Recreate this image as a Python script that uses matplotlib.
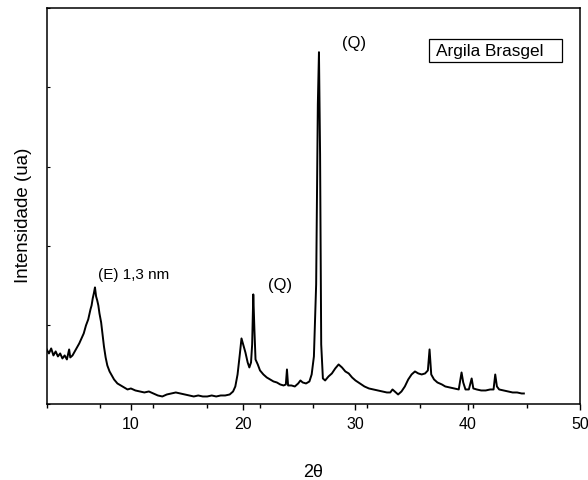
import numpy as np
import matplotlib
matplotlib.use("Agg")
import matplotlib.pyplot as plt
from matplotlib.patches import Rectangle

plt.rcParams["font.family"] = ["Liberation Sans", "DejaVu Sans"]

# XRD pattern (2theta in degrees, intensity in arbitrary units)
two_theta = [
    2.5, 2.7, 2.9, 3.1, 3.3, 3.5, 3.7, 3.9, 4.1, 4.3, 4.5, 4.6, 4.8,
    5.0, 5.2, 5.4, 5.6, 5.8, 6.0, 6.2, 6.4, 6.5, 6.6, 6.7, 6.8, 6.9,
    7.0, 7.1, 7.2, 7.35, 7.5, 7.6, 7.75, 7.9, 8.1, 8.3, 8.5, 8.8, 9.1,
    9.4, 9.7, 10.0, 10.4, 10.8, 11.2, 11.6, 12.0, 12.4, 12.8, 13.2, 13.6,
    14.0, 14.4, 14.8, 15.2, 15.6, 16.0, 16.4, 16.8, 17.2, 17.6, 18.0,
    18.4, 18.8, 19.1, 19.3, 19.5, 19.7, 19.85, 20.0, 20.2, 20.4, 20.55,
    20.7, 20.8, 20.9, 21.0, 21.1, 21.3, 21.5, 21.8, 22.1, 22.4, 22.7,
    23.0, 23.3, 23.6, 23.8, 23.9, 24.0, 24.3, 24.6, 24.9, 25.1, 25.3,
    25.6, 25.9, 26.1, 26.3, 26.5, 26.65, 26.75, 26.85, 26.95, 27.1, 27.3,
    27.6, 27.9, 28.2, 28.5, 28.8, 29.1, 29.4, 29.7, 30.0, 30.4, 30.8,
    31.2, 31.6, 32.0, 32.4, 32.8, 33.1, 33.3, 33.5, 33.8, 34.1, 34.4,
    34.7, 35.0, 35.3, 35.6, 35.9, 36.2, 36.45, 36.6, 36.75, 37.0, 37.3,
    37.7, 38.0, 38.4, 38.8, 39.2, 39.45, 39.6, 39.8, 40.1, 40.35, 40.5,
    40.8, 41.2, 41.6, 42.0, 42.3, 42.45, 42.6, 42.8, 43.2, 43.6, 44.0,
    44.4, 44.8, 45.0,
]
intensity = [
    55, 51, 56, 49, 53, 48, 51, 46, 49, 45, 55, 47, 49,
    53, 57, 61, 66, 71, 79, 85, 95, 99, 106, 111, 117, 108,
    104, 99, 91, 82, 68, 58, 47, 39, 33, 29, 25, 21, 19,
    17, 15, 16, 14, 13, 12, 13, 11, 9, 8, 10, 11,
    12, 11, 10, 9, 8, 9, 8, 8, 9, 8, 9,
    9, 10, 13, 18, 30, 50, 66, 60, 52, 42, 37,
    42, 60, 110, 75, 45, 40, 34, 30, 27, 25, 23,
    22, 20, 19, 20, 35, 19, 19, 18, 21, 24, 22,
    21, 23, 30, 48, 120, 300, 352, 250, 60, 26, 24,
    28, 31, 36, 40, 37, 33, 31, 27, 24, 21, 18,
    16, 15, 14, 13, 12, 12, 15, 13, 10, 13, 18,
    25, 30, 33, 31, 30, 31, 34, 55, 30, 25, 22,
    20, 18, 17, 16, 15, 32, 22, 15, 15, 26, 16,
    15, 14, 14, 15, 15, 30, 18, 15, 14, 13, 12,
    12, 11, 11,
]

x_major = [10, 20, 30, 40, 50]
x_labels = ["10", "20", "30", "40", "50"]

fig = plt.figure(figsize=(5.88, 4.81), dpi=100)
ax = fig.add_axes([0.0794, 0.157, 0.907, 0.824])

ax.plot(two_theta, intensity, color="black", lw=1.4)

ax.set_xlim(2.5, 50)
ax.set_ylim(0, 396)
ax.set_xticks(x_major)
ax.set_xticklabels(x_labels, fontsize=11.5)
ax.set_xticks(np.linspace(2.5, 50, 11), minor=True)
ax.tick_params(axis="x", which="major", direction="out", length=4, width=1, pad=4)
ax.tick_params(axis="x", which="minor", direction="out", length=3, width=1)
ax.set_yticks(np.linspace(0, 396, 6))
ax.tick_params(axis="y", which="major", direction="in", length=2.5, width=0.8,
               labelleft=False)
for s in ax.spines.values():
    s.set_linewidth(1.1)

ax.set_ylabel("Intensidade (ua)", fontsize=13.5)
ax.yaxis.set_label_coords(-0.027, 0.48)
ax.set_xlabel("2θ", fontsize=13, labelpad=23)

ax.text(7.1, 130, "(E) 1,3 nm", fontsize=11, ha="left", va="center")
ax.text(23.3, 120, "(Q)", fontsize=12, ha="center", va="center")
ax.text(29.9, 362, "(Q)", fontsize=12, ha="center", va="center")

# framed sample name, box wider than the text as in the original
ax.add_patch(Rectangle((0.717, 0.864), 0.249, 0.058, transform=ax.transAxes,
                       facecolor="white", edgecolor="black", linewidth=0.9))
ax.text(0.730, 0.893, "Argila Brasgel", transform=ax.transAxes, fontsize=12.4,
        ha="left", va="center")

fig.savefig("out.png", dpi=100)
